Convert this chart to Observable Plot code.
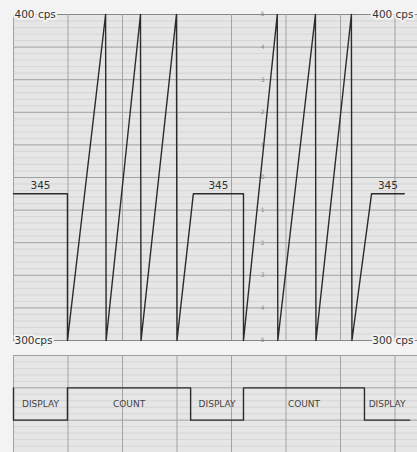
<!DOCTYPE html>
<html><head><meta charset="utf-8">
<script src="https://cdn.jsdelivr.net/npm/d3@7"></script>
<script src="https://cdn.jsdelivr.net/npm/@observablehq/plot@0.6"></script>
<style>
html,body{margin:0;padding:0;background:#f3f3f3;}
#chart svg{display:block;}
#chart svg.topchart{overflow:visible;position:relative;z-index:2;}
</style></head><body><div id="chart"></div>
<script>
// time in chart divisions, frequency in cps
const traceTime = [0, 0.99, 0.99, 1.69, 1.70, 2.33, 2.34, 2.99, 3.00, 3.30, 4.22, 4.22, 4.84, 4.85, 5.54, 5.55, 6.20, 6.21, 6.57, 7.17];
const traceFreq = [345, 345, 300, 400, 300, 400, 300, 400, 300, 345, 345, 300, 400, 300, 400, 300, 400, 300, 345, 345];
const phaseNames = ["DISPLAY", "COUNT", "DISPLAY", "COUNT", "DISPLAY"];
const phaseStart = [0, 0.99, 3.25, 4.22, 6.44];
const phaseEnd = [0.99, 3.25, 4.22, 6.44, 7.27];
const rangeFreqs = [400, 300];
const rangeLabelsLeft = ["400 cps", "300cps"];
const rangeLabelsRight = ["400 cps", "300 cps"];
const holdFreq = 345;
const holdLabel = "345";
const paperScale = ["5", "4", "3", "2", "1", "0", "1", "2", "3", "4", "5"];
const paperScaleFreq = [400, 390, 380, 370, 360, 350, 340, 330, 320, 310, 300];
const gridTimes = [0, 1, 2, 3, 4, 5, 6, 7];

const W = 417;
const xDomain = [0, 7.413];
const bg = "#f3f3f3";
const paper = "#e6e6e6";
const major = "#a2a2a2";
const minor = "#d2d2d2";
const ink = "#2b2b2b";
const font = "DejaVu Sans";

const trace = traceTime.map((t, i) => ({t, f: traceFreq[i]}));
const holds = [];
for (let i = 0; i + 1 < trace.length; i++) {
  if (trace[i].f === holdFreq && trace[i + 1].f === holdFreq) holds.push({t: (trace[i].t + trace[i + 1].t) / 2, f: holdFreq, label: holdLabel});
}
const minorFreqs = d3.range(300, 400.1, 2).filter(f => f % 10 !== 0);
const majorFreqs = d3.range(300, 400.1, 10);
const leftLabels = rangeFreqs.map((f, i) => ({f, label: rangeLabelsLeft[i]}));
const rightLabels = rangeFreqs.map((f, i) => ({f, label: rangeLabelsRight[i]}));
const scaleMarks = paperScale.map((s, i) => ({f: paperScaleFreq[i], s}));

const topChart = Plot.plot({
  width: W, height: 341,
  marginLeft: 13, marginRight: 0, marginTop: 14, marginBottom: 1,
  className: "topchart",
  x: {domain: xDomain, axis: null},
  y: {domain: [300, 400], axis: null},
  style: {background: "transparent", fontFamily: font, overflow: "visible"},
  marks: [
    Plot.frame({fill: paper, stroke: null}),
    Plot.ruleY(minorFreqs, {stroke: minor, strokeWidth: 0.8}),
    Plot.ruleY(majorFreqs, {stroke: major, strokeWidth: 1}),
    Plot.ruleY(rangeFreqs, {stroke: "#888", strokeWidth: 1.2}),
    Plot.ruleX(gridTimes, {stroke: major, strokeWidth: 1}),
    Plot.text(scaleMarks, {x: () => 4.57, y: "f", text: "s", fontSize: 6, fill: "#8a8a8a"}),
    Plot.line(trace, {x: "t", y: "f", stroke: ink, strokeWidth: 1.4, curve: "linear"}),
    Plot.text(holds, {x: "t", y: "f", text: "label", dy: -8, fontSize: 10.5, fill: "#333"}),
    Plot.text(leftLabels, {x: () => 0, y: "f", text: "label", textAnchor: "start", dx: 1, fontSize: 10.5, fill: "#333", stroke: bg, strokeWidth: 4}),
    Plot.text(rightLabels, {x: () => xDomain[1], y: "f", text: "label", textAnchor: "end", dx: -4, fontSize: 10.5, fill: "#333", stroke: bg, strokeWidth: 4})
  ]
});

const stateOf = name => name === "COUNT" ? 1 : 0;
const wave = [{t: phaseStart[0], s: 1}];
phaseNames.forEach((n, i) => {
  wave.push({t: phaseStart[i], s: stateOf(n)});
  wave.push({t: phaseEnd[i], s: stateOf(n)});
});
const phaseLabels = phaseNames.map((n, i) => ({t: (phaseStart[i] + phaseEnd[i]) / 2, label: n}));
const bMinor = d3.range(-1, 2.01, 0.2).map(v => Math.round(v * 10) / 10).filter(v => Math.abs(v - Math.round(v)) > 0.01);
const bMajor = [-1, 0, 1, 2];

const bottomChart = Plot.plot({
  width: W, height: 111,
  marginLeft: 13, marginRight: 0, marginTop: 14, marginBottom: 0,
  x: {domain: xDomain, axis: null},
  y: {domain: [-1, 2], axis: null},
  style: {background: "transparent", fontFamily: font},
  marks: [
    Plot.frame({fill: paper, stroke: null}),
    Plot.ruleY(bMinor, {stroke: minor, strokeWidth: 0.8}),
    Plot.ruleY(bMajor, {stroke: major, strokeWidth: 1}),
    Plot.ruleX(gridTimes, {stroke: major, strokeWidth: 1}),
    Plot.line(wave, {x: "t", y: "s", stroke: ink, strokeWidth: 1.4}),
    Plot.text(phaseLabels, {x: "t", y: () => 0.5, text: "label", fontSize: 9, fill: "#444"})
  ]
});

document.getElementById("chart").append(topChart, bottomChart);
</script></body></html>
